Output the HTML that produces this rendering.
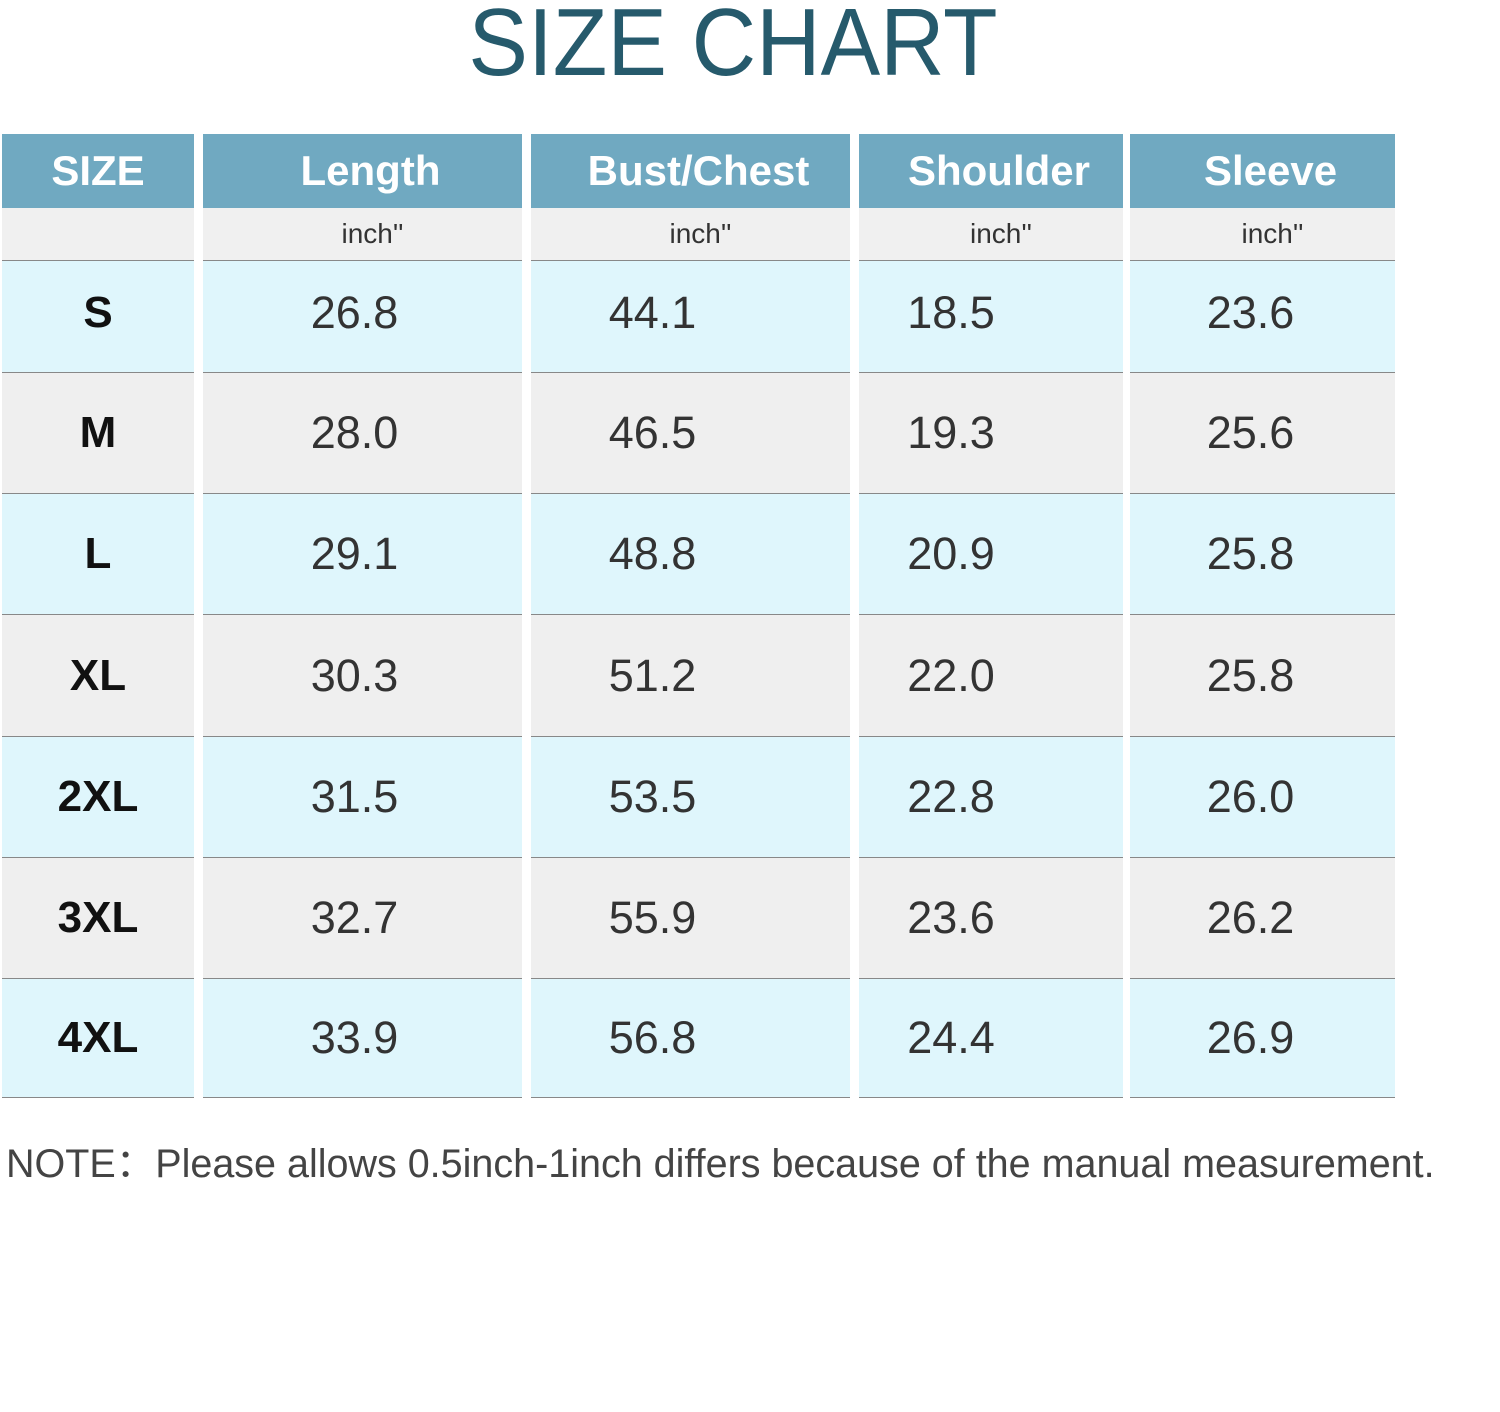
<!DOCTYPE html>
<html><head><meta charset="utf-8"><style>
body{margin:0;width:1500px;height:1412px;background:#fff;position:relative;overflow:hidden;font-family:"Liberation Sans",sans-serif}
.t{position:absolute;left:0;width:1466px;top:-12px;text-align:center;font-size:96px;color:#265a6c;letter-spacing:0px;transform:scaleX(0.93);transform-origin:733px 0}
.c{position:absolute;display:flex;align-items:center;justify-content:center;box-sizing:border-box}
.h{background:#70a9c1;color:#fff;font-weight:bold;font-size:42px}
.u{background:#f0f0f0;font-size:28px;color:#333;border-bottom:1px solid #888}
.b{background:#dff6fc}.g{background:#efefef}
.v{font-size:45px;color:#333;border-bottom:1px solid #888}
.s{font-size:44px;color:#111;font-weight:bold}
.n{position:absolute;left:6px;top:1132px;font-size:39.5px;color:#444}
</style></head><body>
<div class="t">SIZE CHART</div>
<div id="g"></div>
<div class="n">NOTE：Please allows 0.5inch-1inch differs because of the manual measurement.</div>
<script>
var cols=[[2,194],[203,522],[531,850],[859,1123],[1130,1395]];
var pr=[0,16,76,80,24];
var rows=[[261,373],[373,494],[494,615],[615,737],[737,858],[858,979],[979,1098]];
var hd=["SIZE","Length","Bust/Chest","Shoulder","Sleeve"];
var data=[["S","26.8","44.1","18.5","23.6"],["M","28.0","46.5","19.3","25.6"],["L","29.1","48.8","20.9","25.8"],["XL","30.3","51.2","22.0","25.8"],["2XL","31.5","53.5","22.8","26.0"],["3XL","32.7","55.9","23.6","26.2"],["4XL","33.9","56.8","24.4","26.9"]];
var h="";
cols.forEach(function(c,i){
var l=c[0],w=c[1]-c[0];
h+='<div class="c h" style="left:'+l+'px;top:134px;width:'+w+'px;height:74px;padding-left:'+(i?16:0)+'px">'+hd[i]+'</div>';
h+='<div class="c u" style="left:'+l+'px;top:208px;width:'+w+'px;height:53px;padding-left:'+(i?20:0)+'px">'+(i?"inch''":"")+'</div>';
rows.forEach(function(r,j){
h+='<div class="c v '+(j%2?"g":"b")+(i==0?" s":"")+'" style="left:'+l+'px;top:'+r[0]+'px;width:'+w+'px;height:'+(r[1]-r[0])+'px;padding-right:'+pr[i]+'px;padding-bottom:'+(j==0?8:0)+'px">'+data[j][i]+'</div>';
});});
document.getElementById("g").innerHTML=h;
</script>
</body></html>
